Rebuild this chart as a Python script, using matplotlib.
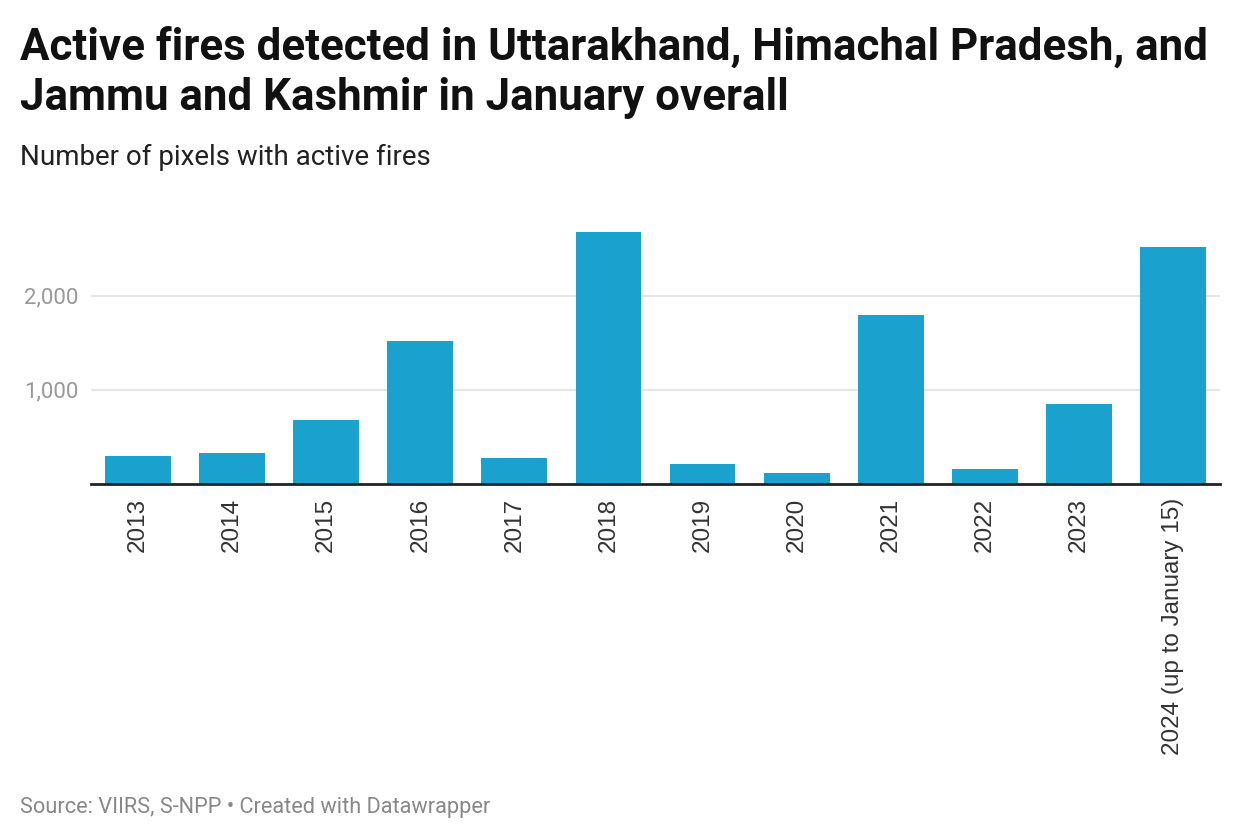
import matplotlib.pyplot as plt
import numpy as np

plt.rcParams['font.family'] = ['Roboto', 'DejaVu Sans']

# Data
years = ["2013", "2014", "2015", "2016", "2017", "2018", "2019", "2020",
         "2021", "2022", "2023", "2024 (up to January 15)"]
fires = [298, 330, 681, 1521, 277, 2681, 213, 117, 1798, 160, 851, 2521]
y_ticks = [1000, 2000]

BAR_COLOR = "#1aa1cd"
GRID_COLOR = "#e5e5e5"
W, H = 1240, 840

fig = plt.figure(figsize=(12.4, 8.4), dpi=100)
ax = fig.add_axes([91 / W, (H - 484) / H, (1220 - 91) / W, (484 - 230) / H])

x = np.arange(len(years))
ax.bar(x, fires, width=0.70, color=BAR_COLOR, zorder=2)

ax.set_xlim(-0.5, len(years) - 0.5)
ax.set_ylim(0, 2700)

ax.set_yticks(y_ticks)
ax.set_yticklabels([f"{v:,}" for v in y_ticks], fontsize=16, color="#999999")
ax.yaxis.grid(True, color=GRID_COLOR, linewidth=1.5, zorder=0)
ax.tick_params(axis='y', length=0, pad=9)

ax.set_xticks(x)
ax.set_xticklabels(years, rotation=90, fontsize=17.5, color="#333333",
                   family=["Liberation Sans", "DejaVu Sans"])
ax.tick_params(axis='x', length=0, pad=10)

for s in ["top", "right", "left"]:
    ax.spines[s].set_visible(False)
ax.spines["bottom"].set_color("#222222")
ax.spines["bottom"].set_linewidth(2)
ax.spines["bottom"].set_zorder(3)

# title, two lines placed on their baselines
fig.text(20 / W, 1 - 60 / H, "Active fires detected in Uttarakhand, Himachal Pradesh, and",
         fontsize=31.6, fontweight="bold", color="#111111", va="baseline", ha="left")
fig.text(20 / W, 1 - 110 / H, "Jammu and Kashmir in January overall",
         fontsize=31.6, fontweight="bold", color="#111111", va="baseline", ha="left")
fig.text(20 / W, 1 - 165 / H, "Number of pixels with active fires",
         fontsize=20, color="#222222", va="baseline", ha="left")
fig.text(20 / W, 1 - 813 / H, "Source: VIIRS, S-NPP \u2022 Created with Datawrapper",
         fontsize=15.7, color="#888888", va="baseline", ha="left")

fig.savefig("out.png", dpi=100, facecolor="white")
